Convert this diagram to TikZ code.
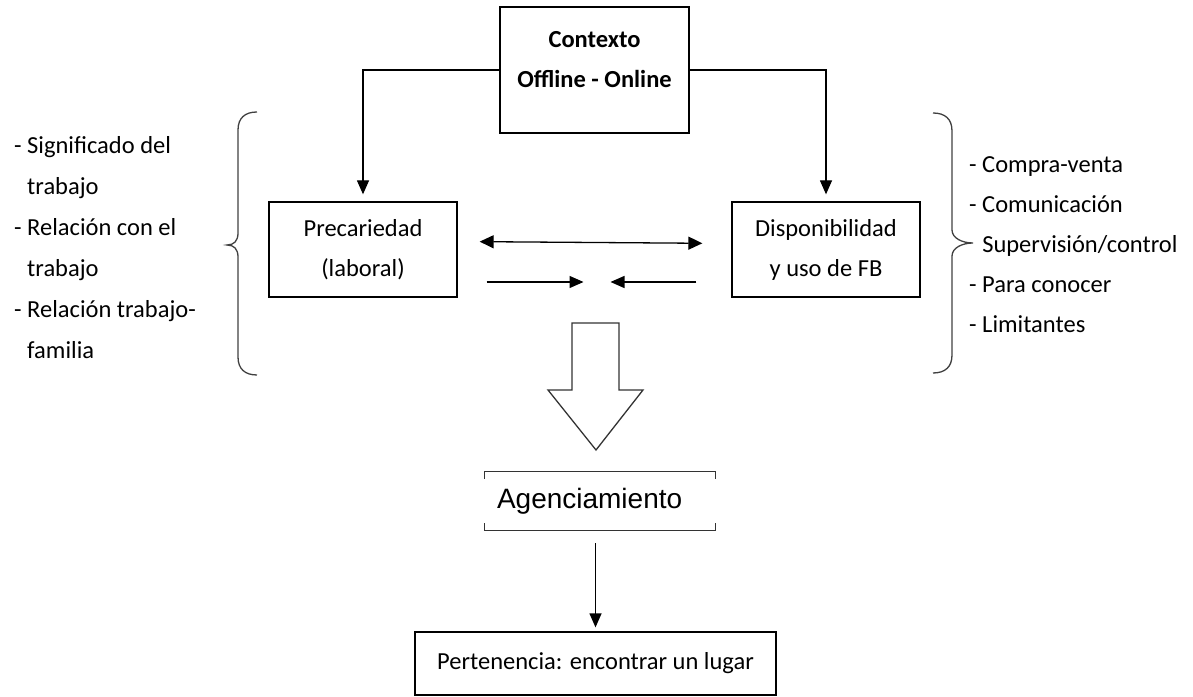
\documentclass[tikz,border=0pt]{standalone}
\usepackage{fontspec}
\setmainfont{Carlito}
\newfontfamily\arialfont{Liberation Sans}
\usetikzlibrary{arrows.meta,positioning}
\tikzset{
  mainbox/.style={
    rectangle, draw=black, line width=1.3pt, align=center,
    inner sep=0pt, font=\fontsize{24.5}{40}\selectfont
  },
  listtext/.style={align=left, inner sep=0pt, anchor=west},
  bracketline/.style={line width=1.3pt, draw=black!80},
  bracecurve/.style={line width=1.3pt, draw=black!75},
  blockarrow/.style={line width=1.3pt, draw=black!80, fill=white, line join=miter},
  arrow/.style={-{Triangle[length=14pt,width=12pt]}, line width=1.3pt},
  dblarrow/.style={{Triangle[length=14pt,width=13pt]}-{Triangle[length=14pt,width=13pt]}, line width=1.3pt}
}

\begin{document}
\begin{tikzpicture}[x=1pt,y=1pt]
  \useasboundingbox (0,0) rectangle (1193,696);

  % Context box
  \node[mainbox, minimum width=189pt, minimum height=126pt] (ctx) at (594.5,626) {};
  \node[font=\fontsize{24.5}{40}\selectfont\bfseries, align=center, inner sep=0pt]
    (ctxtext) at (594.5,636) {Contexto\\Offline - Online};

  % Middle boxes
  \node[mainbox, minimum width=188pt, minimum height=95pt] (prec) at (363,446.5)
  {Precariedad\\(laboral)};

  \node[mainbox, minimum width=188pt, minimum height=95pt] (disp) at (826,446.5)
  {Disponibilidad\\y uso de FB};

  % Agenciamiento
  \node[inner xsep=12pt, inner ysep=0pt, text width=206pt, minimum height=58pt,
    align=left, font=\arialfont\fontsize{28}{34}\selectfont] (agen) at (600,195)
  {Agenciamiento};
  \draw[bracketline] ([yshift=-7pt]agen.north west) -- (agen.north west) -- (agen.north east) -- ++(0,-7);
  \draw[bracketline] ([yshift=7pt]agen.south west) -- (agen.south west) -- (agen.south east) -- ++(0,7);

  % Pertenencia
  \node[mainbox, minimum width=361pt, minimum height=63pt] (pert) at (595.5,32.5)
  {Pertenencia: encontrar un lugar};

  % Side lists
  \node[listtext, font=\fontsize{24.5}{41}\selectfont] (leftlist) at (14,448.5)
  {- Significado del\\\hphantom{- }trabajo\\- Relación con el\\\hphantom{- }trabajo\\- Relación trabajo-\\\hphantom{- }familia};

  \node[listtext, font=\fontsize{24.5}{40}\selectfont] (rightlist) at (969,451)
  {- Compra-venta\\- Comunicación\\\hphantom{- }Supervisión/control\\- Para conocer\\- Limitantes};

  % Braces
  \draw[bracecurve] (257,584) .. controls (245,584) and (238,578) .. (238,566)
    -- (238,463) .. controls (238,455) and (234,451) .. (227,451)
    .. controls (234,451) and (238,447) .. (238,439)
    -- (238,339) .. controls (238,327) and (245,321) .. (257,321);
  \draw[bracecurve] (933,583) .. controls (945,583) and (952,577) .. (952,565)
    -- (952,466) .. controls (952,458) and (962,453) .. (973,453)
    .. controls (962,453) and (952,448) .. (952,440)
    -- (952,341) .. controls (952,329) and (945,323) .. (933,323);

  % Edges
  \draw[arrow, shorten >=7pt] (ctx.west) -| (prec.north);
  \draw[arrow, shorten >=7pt] (ctx.east) -| (disp.north);

  \coordinate (meet) at (596.5,414);
  \draw[dblarrow, shorten <=22pt, shorten >=29pt] ([yshift=8pt]prec.east) -- ([yshift=6pt]disp.west);
  \draw[arrow, shorten <=29pt, shorten >=13pt] ([yshift=-32.5pt]prec.east) -- (meet);
  \draw[arrow, shorten <=35pt, shorten >=14pt] ([yshift=-32.5pt]disp.west) -- (meet);

  % Block arrow
  \draw[blockarrow] (572,373) -- (619,373) -- (619,306) -- (643,306)
    -- (596,246) -- (548,306) -- (572,306) -- cycle;

  \draw[arrow, shorten <=13pt, shorten >=4pt] (pert.north |- agen.south) -- (pert.north);

\end{tikzpicture}
\end{document}
